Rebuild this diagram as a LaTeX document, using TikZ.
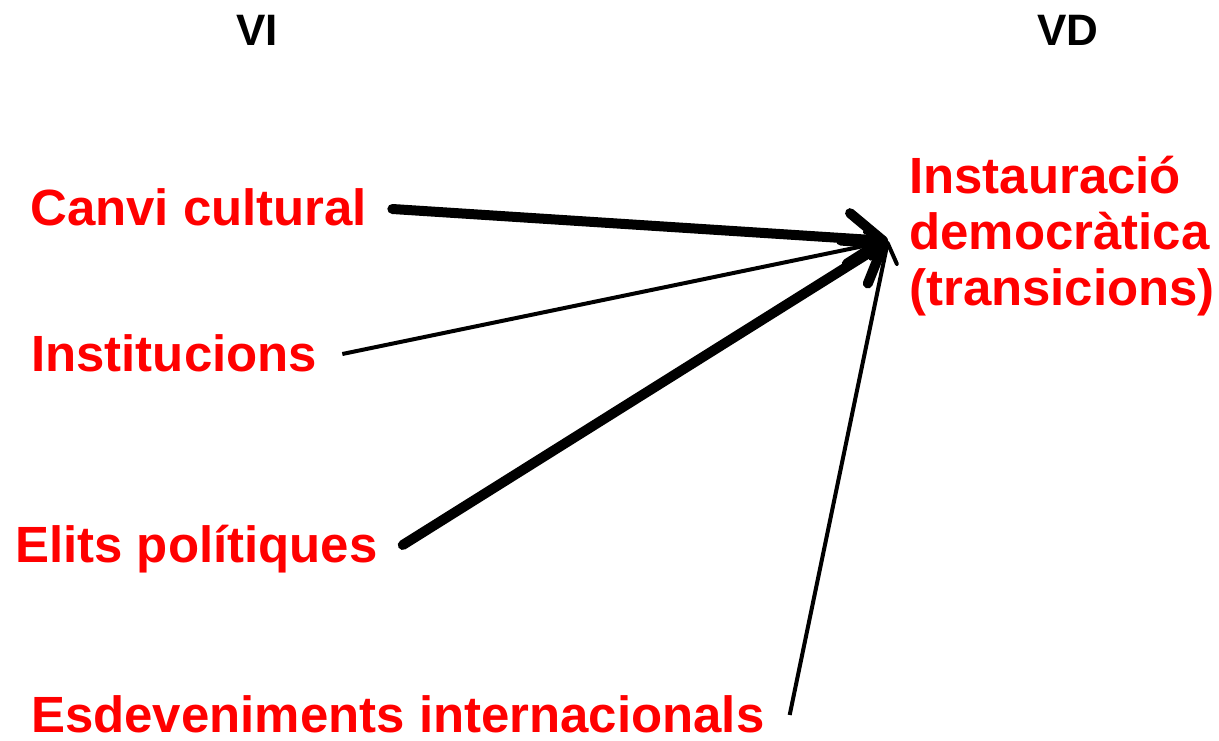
\documentclass[tikz,border=0pt]{standalone}
\usepackage{fontspec}
\setmainfont{Liberation Sans}
\usetikzlibrary{arrows.meta}
\tikzset{
  lbl/.style={text=red,font=\bfseries\fontsize{38.2}{42}\selectfont,inner sep=0pt,anchor=base west},
  hd/.style={font=\bfseries\fontsize{33}{38}\selectfont,inner sep=0pt,anchor=base},
  heavy/.style={line width=7.5pt,line cap=round,-{Straight Barb[length=26pt,width=38pt,round]}},
  light/.style={line width=3pt,-{Straight Barb[length=14pt,width=20pt,round]}}
}
\begin{document}
\begin{tikzpicture}[x=0.75pt,y=-0.75pt]
  \useasboundingbox (0,0) rectangle (1219,741);
  % headings
  \node[hd] (vi) at (257,46) {VI};
  \node[hd] (vd) at (1068,46) {VD};
  % causes
  \node[lbl] (canvi) at (30,226) {Canvi cultural};
  \node[lbl] (inst) at (31,371) {Institucions};
  \node[lbl] (elits) at (15,562) {Elits polítiques};
  \node[lbl] (esdev) at (31,732) {Esdeveniments internacionals};
  % effect
  \node[lbl,anchor=north west,align=left] (instaur) at (909,156)
    {Instauració\\democràtica\\(transicions)};
  \coordinate (tip) at (888,241);
  \foreach \src/\sty in {canvi/heavy,inst/light,elits/heavy,esdev/light} {
    \draw[\sty] ([shift={(25,-17)}]\src.base east) -- (tip);
  }
\end{tikzpicture}
\end{document}
